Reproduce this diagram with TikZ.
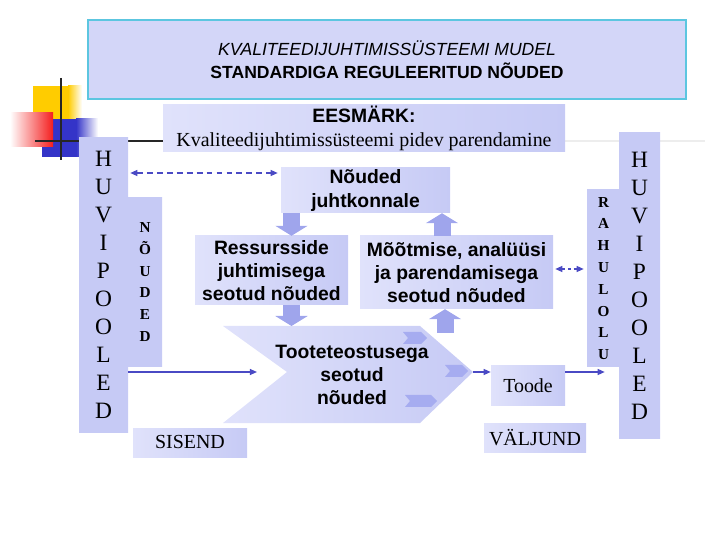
\documentclass[tikz,border=0pt]{standalone}
\usepackage{fontspec}
\setmainfont{Liberation Serif}
\setsansfont{Liberation Sans}
\usepackage{xcolor}
\usepackage{tikz}
\usetikzlibrary{arrows.meta,positioning,calc}

\definecolor{lavA}{HTML}{C6CAF5}
\definecolor{lavB}{HTML}{E0E2FB}
\definecolor{lavT}{HTML}{D3D6F8}
\definecolor{edgeC}{HTML}{5CC6E0}
\definecolor{lineC}{HTML}{4A4AC4}
\definecolor{bigC}{HTML}{9FA5EC}
\definecolor{smallC}{HTML}{A6ACF0}
\definecolor{decoY}{HTML}{FFCC00}
\definecolor{decoB}{HTML}{3434C8}
\definecolor{decoR}{HTML}{F41E1E}

\def\pxu{0.03cm}
\newcommand{\bsf}{\sffamily\bfseries\fontsize{16.5}{19.8}\selectfont}
\newcommand{\colfont}{\fontsize{20}{23.9}\selectfont}
\newcommand{\smallcol}{\bfseries\fontsize{13}{18.6}\selectfont}

\begin{document}
\begin{tikzpicture}[
x=0.03cm, y=-0.03cm,
panel/.style={left color=lavB, right color=lavA, inner sep=0pt, align=center},
column/.style={left color=lavA, middle color=lavB, right color=lavA, inner sep=0pt, align=center},
arr/.style={draw=lineC, line width=1.2pt, -{Triangle[length=6pt,width=5pt]}},
darr/.style={arr, {Triangle[length=6pt,width=5pt]}-{Triangle[length=6pt,width=5pt]}, dash pattern=on 5pt off 3.5pt},
dotarr/.style={arr, {Triangle[length=6pt,width=5pt]}-{Triangle[length=6pt,width=5pt]}, dash pattern=on 3pt off 2pt},
bigarr/.style={draw=bigC, line width=17*\pxu, -{Triangle[length=0.3cm,width=0.96cm]}}
]
\useasboundingbox (0,0) rectangle (720,540);

% Corner decoration
\fill[decoY] (33,86) rectangle (68,120);
\shade[left color=decoY, right color=white] (68,86) rectangle (82,120);
\fill[decoB] (42,119) rectangle (76,157);
\shade[left color=decoB, right color=white] (76,119) rectangle (98,157);
\shade[left color=white, right color=decoR] (10,113) rectangle (53,147);
\draw[line width=2.5pt, black!85] (35,141) -- (163,141);
\draw[line width=2pt, black!7] (565,141) -- (705,141);
\draw[line width=2.5pt, black!85] (61,78) -- (61,160);

% Title
\node[fill=lavT, draw=edgeC, line width=1pt, minimum width=598*\pxu, minimum height=79*\pxu,
  align=center, font=\sffamily\fontsize{15}{19.6}\selectfont] (title) at (387,59.5)
{{\itshape KVALITEEDIJUHTIMISSÜSTEEMI MUDEL}\\{\bfseries STANDARDIGA REGULEERITUD NÕUDED}};

% Goal
\node[panel, minimum width=402*\pxu, minimum height=47*\pxu, font=\fontsize{17}{20.5}\selectfont] (goal) at (364,128.5)
{{\sffamily\bfseries\fontsize{16.5}{20.5}\selectfont EESMÄRK:}\\Kvaliteedijuhtimissüsteemi pidev parendamine};

% Side columns
\node[column, minimum width=49*\pxu, minimum height=294*\pxu, font=\colfont] (hvL) at (103.5,285)
{H\\U\\V\\I\\P\\O\\O\\L\\E\\D};
\node[column, minimum width=41*\pxu, minimum height=305*\pxu, font=\colfont] (hvR) at (639.5,285.5)
{H\\U\\V\\I\\P\\O\\O\\L\\E\\D};
\node[column, minimum width=34*\pxu, minimum height=169*\pxu, font=\smallcol] (nou) at (145,282)
{N\\Õ\\U\\D\\E\\D};
\node[column, minimum width=33*\pxu, minimum height=177*\pxu, font=\smallcol] (rah) at (603.5,278.5)
{R\\A\\H\\U\\L\\O\\L\\U};

% Product realisation (chevron)
\coordinate (ttA) at (223,326);
\coordinate (ttB) at (420,326);
\coordinate (ttP) at (473,372);
\coordinate (ttC) at (420,423);
\coordinate (ttD) at (223,423);
\coordinate (ttN) at (287,372);
\shade[left color=lavB, right color=lavA] (ttA) -- (ttB) -- (ttP) -- (ttC) -- (ttD) -- (ttN) -- cycle;
\foreach \x/\y/\w in {403/332/24, 445/365/23, 405/395/32}
  \fill[smallC] (\x,\y) -- ++(\w-6,0) -- ++(6,6) -- ++(-6,6) -- ++(-\w+6,0) -- ++(5,-6) -- cycle;
\node[font=\bsf, align=center] (tt) at (352,375) {Tooteteostusega\\seotud\\nõuded};

% Requirement boxes
\node[panel, minimum width=169*\pxu, minimum height=45*\pxu, font=\bsf] (nj) at (365.5,190.5)
{Nõuded\\juhtkonnale};
\node[panel, minimum width=153*\pxu, minimum height=69*\pxu, font=\bsf] (res) at (271.5,270.5)
{Ressursside\\juhtimisega\\seotud nõuded};
\node[panel, minimum width=193*\pxu, minimum height=73*\pxu, font=\bsf] (mo) at (456.5,272.5)
{Mõõtmise, analüüsi\\ja parendamisega\\seotud nõuded};

% Block arrows
\coordinate (a4) at (445,333);
\draw[bigarr] (291.5,0 |- nj.south) -- (291.5,0 |- res.north);
\draw[bigarr] (442,0 |- mo.north) -- (442,0 |- nj.south);
\draw[bigarr] (291.5,0 |- res.south) -- (291.5,0 |- ttA);
\draw[bigarr] (a4) -- (445,0 |- mo.south);

% Output / input
\node[panel, minimum width=74*\pxu, minimum height=40*\pxu, font=\fontsize{17}{20}\selectfont] (toode) at (528,386) {Toode};
\node[panel, minimum width=114*\pxu, minimum height=29*\pxu, font=\fontsize{17}{20}\selectfont] (sis) at (190,442.5) {SISEND};
\node[panel, minimum width=102*\pxu, minimum height=29*\pxu, font=\fontsize{17}{20}\selectfont] (val) at (535,437.5) {VÄLJUND};

% Connections
\draw[darr, shorten <=2*\pxu, shorten >=3*\pxu] (hvL.east |- 0,173) -- (nj.west |- 0,173);
\draw[dotarr, shorten <=2*\pxu, shorten >=3*\pxu] (mo.east |- 0,269) -- (rah.west |- 0,269);
\draw[arr, shorten >=30*\pxu] (hvL.east |- ttN) -- (ttN);
\draw[arr] (ttP) -- (ttP -| toode.west);
\draw[arr, shorten >=14*\pxu] (ttP -| toode.east) -- (ttP -| hvR.west);

\end{tikzpicture}
\end{document}
